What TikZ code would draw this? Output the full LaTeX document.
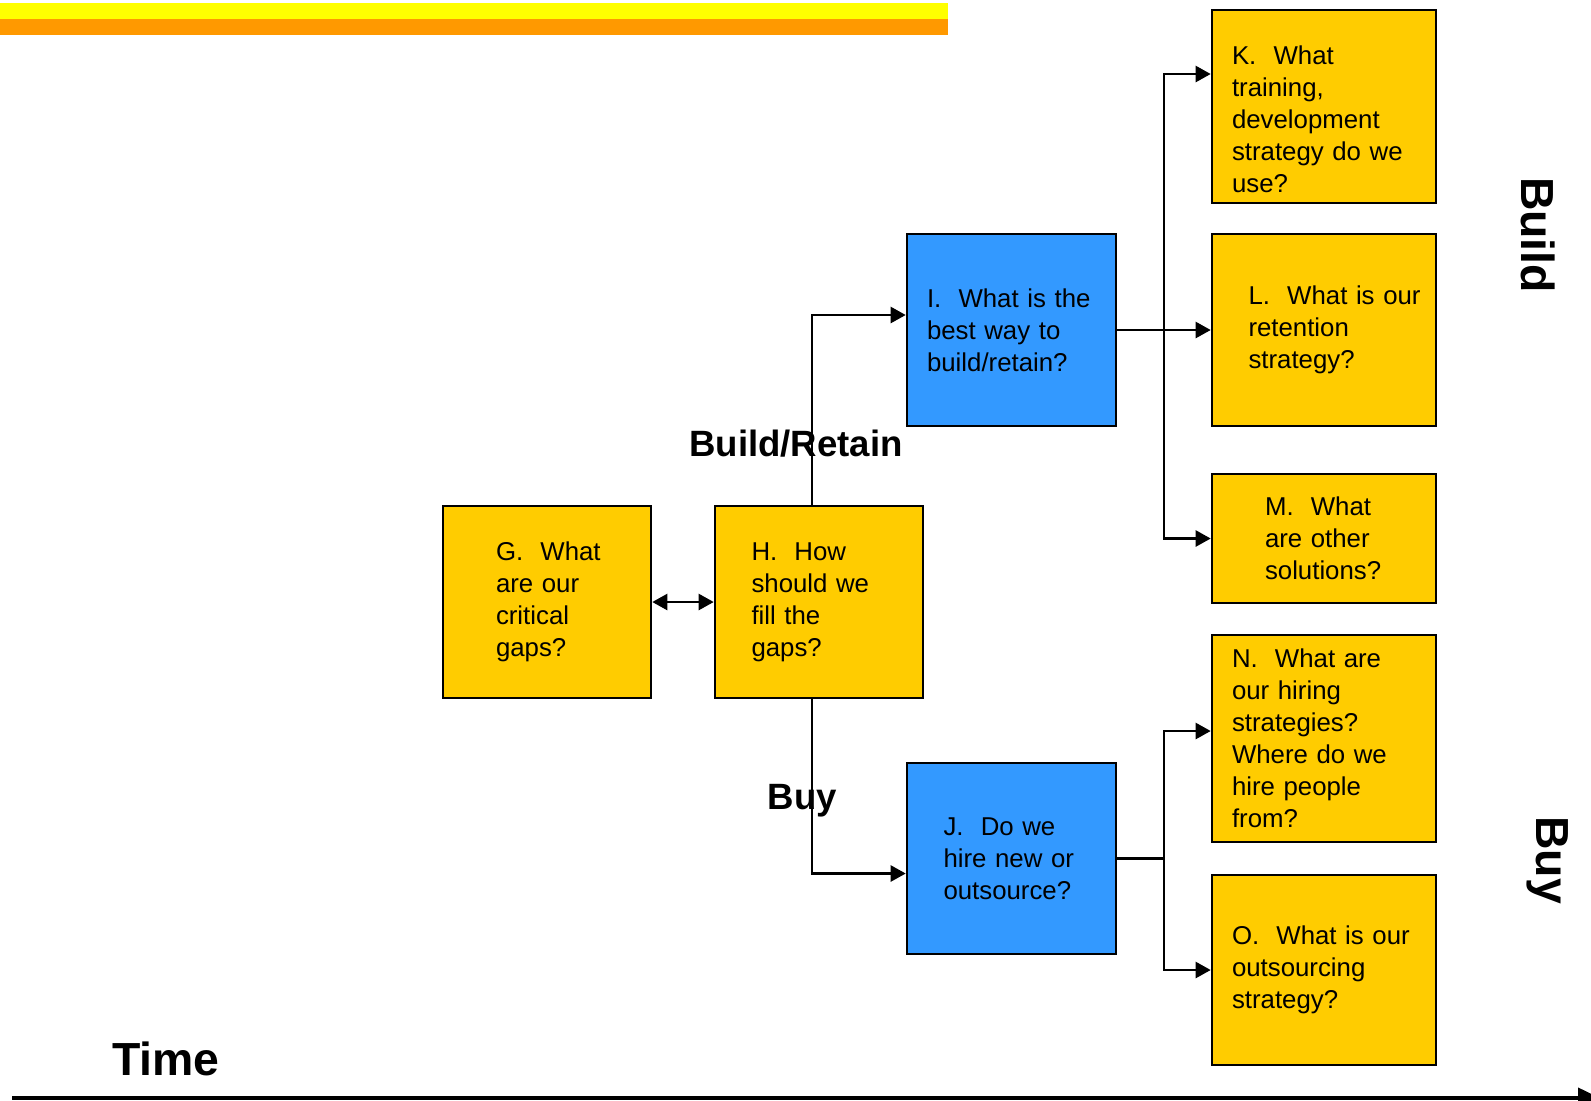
\documentclass[tikz,border=0pt]{standalone}
\usepackage{fontspec}
\setmainfont{Liberation Sans}
\usetikzlibrary{arrows.meta}

\definecolor{boxgold}{HTML}{FFCC00}
\definecolor{boxblue}{HTML}{3399FF}
\definecolor{baryellow}{HTML}{FFFF00}
\definecolor{barorange}{HTML}{FF9900}

\newcommand\boxfont{\fontsize{12.9}{16}\selectfont}
\newcommand\midfont{\bfseries\fontsize{18.3}{22}\selectfont}
\newcommand\bigfont{\bfseries\fontsize{23.2}{28}\selectfont}

\begin{document}
\begin{tikzpicture}[x=0.5pt, y=-0.5pt,
    qbox/.style={draw=black, line width=1.3pt, fill=boxgold, inner sep=0pt,
        align=left, font=\boxfont, text width=104pt, minimum height=96pt},
    indent/.style={execute at begin node={\leftskip=#1}},
    link/.style={line width=1.2pt},
    arr/.style={line width=1.2pt, -{Triangle[length=7.5pt, width=8pt]}}]
    \useasboundingbox (0,0) rectangle (1591,1100);
    \clip (0,0) rectangle (1591,1100);

    % title bar
    \fill[baryellow] (0,3) rectangle (948,19);
    \fill[barorange] (0,19) rectangle (948,35);

    % question boxes
    \node[qbox, indent=26.5pt] (G) at (547,602) {G.\ \ What\\are our\\critical\\gaps?};
    \node[qbox, indent=18.25pt] (H) at (819,602) {H.\ \ How\\should we\\fill the\\gaps?};
    \node[qbox, fill=boxblue, text width=104.5pt, indent=10pt] (I) at (1011.5,330) {I.\ \ What is the\\best way to\\build/retain?};
    \node[qbox, fill=boxblue, text width=104.5pt, minimum height=95.5pt, indent=18.25pt] (J) at (1011.5,858.5) {J.\ \ Do we\\hire new or\\outsource?};
    \node[qbox, text width=112pt, minimum height=96.5pt, indent=10pt] (K) at (1324,106.5) {\rule{0pt}{22pt}K.\ \ What\\training,\\development\\strategy do we\\use?};
    \node[qbox, text width=112pt, indent=18.25pt] (L) at (1324,330) {L.\ \ What is our\\retention\\strategy?};
    \node[qbox, text width=112pt, minimum height=64.5pt, indent=26.5pt] (M) at (1324,538.5) {M.\ \ What\\are other\\solutions?};
    \node[qbox, text width=112pt, minimum height=103.5pt, indent=10pt] (N) at (1324,738.5) {N.\ \ What are\\our hiring\\strategies?\\Where do we\\hire people\\from?};
    \node[qbox, text width=112pt, minimum height=95pt, indent=10pt] (O) at (1324,970) {O.\ \ What is our\\outsourcing\\strategy?};

    % labels
    \node[font=\midfont, anchor=base] (retain) at (796,456) {Build/Retain};
    \node[font=\midfont, anchor=base] (buy) at (802.5,809) {Buy};
    \node[font=\bigfont, anchor=base, rotate=-90] (buildside) at (1521,235) {Build};
    \node[font=\bigfont, anchor=base, rotate=-90] (buyside) at (1536,860) {Buy};
    \node[font=\bigfont, anchor=base] (time) at (166,1075) {Time};

    % connectors
    \draw[arr, {Triangle[length=7.5pt, width=8pt]}-{Triangle[length=7.5pt, width=8pt]}] (G) -- (H);
    \draw[arr] ([xshift=-3.5pt]H.north) |- ([yshift=7.5pt]I.west);
    \draw[arr] ([xshift=-3.5pt]H.south) |- ([yshift=-7.5pt]J.west);

    \coordinate (Ifork) at (1164,330);
    \coordinate (Jfork) at (1164,858.5);
    \draw[link] (I.east) -- (Ifork);
    \draw[arr] (Ifork) |- ([yshift=16.25pt]K.west);
    \draw[arr] (Ifork) -- (L.west);
    \draw[arr] (Ifork) |- (M.west);
    \draw[link] (J.east) -- (Jfork);
    \draw[arr] (Jfork) |- ([yshift=3.75pt]N.west);
    \draw[arr] (Jfork) |- (O.west);

    % time axis
    \coordinate (tstart) at (12,1098);
    \coordinate (tend) at (1600,1098);
    \draw[line width=2pt, -{Triangle[length=11pt, width=10pt]}] (tstart) -- (tend);
\end{tikzpicture}
\end{document}
